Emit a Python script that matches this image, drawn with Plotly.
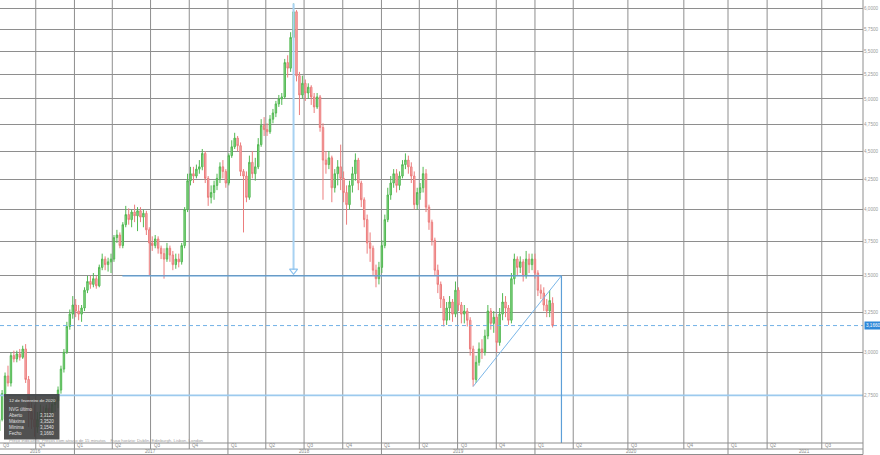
import numpy as np
import pandas as pd
import plotly.graph_objects as go

# ---------------- data (weekly candles) ----------------
DATES = pd.date_range("2016-07-06", periods=189, freq="7D")  # last = 2020-02-12

OPEN = [
    2.56, 2.62, 2.76, 2.86, 2.82, 2.98, 2.96, 2.99, 2.97, 3.02,
    2.84, 2.66, 2.62, 2.58, 2.62, 2.66, 2.63, 2.68, 2.65, 2.70,
    2.72, 2.78, 2.90, 3.00, 3.16, 3.24, 3.30, 3.26, 3.24, 3.28,
    3.40, 3.46, 3.44, 3.48, 3.43, 3.56, 3.62, 3.58, 3.60, 3.62,
    3.78, 3.80, 3.72, 3.88, 3.96, 3.92, 3.98, 3.95, 3.99, 3.94,
    3.97, 3.84, 3.74, 3.72, 3.77, 3.70, 3.66, 3.62, 3.70, 3.65,
    3.58, 3.62, 3.60, 3.72, 4.00, 4.24, 4.30, 4.28, 4.34, 4.36,
    4.48, 4.26, 4.10, 4.14, 4.20, 4.26, 4.36, 4.32, 4.22, 4.46,
    4.54, 4.62, 4.55, 4.32, 4.28, 4.10, 4.40, 4.30, 4.36, 4.56,
    4.74, 4.70, 4.68, 4.80, 4.86, 4.95, 5.00, 5.02, 5.38, 5.32,
    5.66, 5.96, 5.24, 5.04, 5.16, 5.06, 5.12, 5.02, 4.92, 5.02,
    4.72, 4.42, 4.38, 4.44, 4.18, 4.30, 4.36, 4.26, 4.14, 4.04,
    4.20, 4.30, 4.42, 4.22, 4.08, 3.92, 3.74, 3.70, 3.54, 3.48,
    3.56, 3.72, 3.92, 4.12, 4.22, 4.30, 4.20, 4.28, 4.38, 4.42,
    4.36, 4.28, 4.04, 4.14, 4.18, 4.30, 4.02, 3.90, 3.76, 3.54,
    3.44, 3.34, 3.20, 3.28, 3.32, 3.24, 3.40, 3.30, 3.24, 3.26,
    3.20, 3.02, 2.84, 2.94, 3.02, 3.00, 3.10, 3.26, 3.18, 3.22,
    3.06, 3.24, 3.32, 3.28, 3.20, 3.48, 3.62, 3.56, 3.60, 3.50,
    3.62, 3.58, 3.62, 3.52, 3.40, 3.38, 3.30, 3.26, 3.312,
]
HIGH = [
    2.63, 2.78, 2.88, 2.92, 3.00, 3.01, 3.01, 3.02, 3.04, 3.05,
    2.86, 2.72, 2.70, 2.66, 2.70, 2.69, 2.70, 2.71, 2.74, 2.74,
    2.80, 2.92, 3.02, 3.19, 3.27, 3.36, 3.34, 3.30, 3.30, 3.42,
    3.50, 3.50, 3.52, 3.50, 3.58, 3.66, 3.64, 3.63, 3.66, 3.80,
    3.84, 3.82, 3.90, 4.03, 4.01, 4.00, 4.04, 4.02, 4.02, 4.00,
    3.99, 3.86, 3.79, 3.80, 3.79, 3.72, 3.70, 3.74, 3.72, 3.68,
    3.66, 3.66, 3.74, 4.02, 4.30, 4.36, 4.36, 4.38, 4.42, 4.52,
    4.50, 4.28, 4.20, 4.24, 4.30, 4.40, 4.42, 4.34, 4.48, 4.60,
    4.67, 4.64, 4.58, 4.34, 4.32, 4.46, 4.50, 4.44, 4.62, 4.80,
    4.82, 4.76, 4.84, 4.90, 4.98, 5.04, 5.06, 5.42, 5.46, 5.72,
    6.06, 5.98, 5.28, 5.24, 5.20, 5.16, 5.14, 5.06, 5.06, 5.04,
    4.76, 4.50, 4.50, 4.46, 4.34, 4.42, 4.56, 4.32, 4.20, 4.24,
    4.36, 4.48, 4.44, 4.24, 4.10, 3.96, 3.82, 3.72, 3.58, 3.60,
    3.76, 3.96, 4.18, 4.28, 4.34, 4.34, 4.32, 4.42, 4.48, 4.46,
    4.40, 4.32, 4.18, 4.22, 4.36, 4.34, 4.04, 3.92, 3.78, 3.58,
    3.46, 3.36, 3.32, 3.36, 3.34, 3.46, 3.42, 3.32, 3.30, 3.28,
    3.22, 3.04, 2.98, 3.06, 3.08, 3.14, 3.30, 3.28, 3.26, 3.24,
    3.28, 3.38, 3.36, 3.30, 3.52, 3.66, 3.64, 3.64, 3.62, 3.68,
    3.66, 3.66, 3.66, 3.54, 3.44, 3.42, 3.34, 3.40, 3.352,
]
LOW = [
    2.55, 2.61, 2.74, 2.80, 2.80, 2.94, 2.94, 2.95, 2.96, 2.82,
    2.58, 2.57, 2.53, 2.55, 2.60, 2.61, 2.61, 2.62, 2.60, 2.66,
    2.68, 2.76, 2.88, 2.99, 3.14, 3.21, 3.22, 3.20, 3.19, 3.26,
    3.38, 3.41, 3.42, 3.41, 3.42, 3.54, 3.54, 3.53, 3.52, 3.60,
    3.74, 3.70, 3.70, 3.86, 3.88, 3.86, 3.90, 3.83, 3.90, 3.86,
    3.80, 3.50, 3.68, 3.70, 3.66, 3.62, 3.48, 3.60, 3.60, 3.54,
    3.55, 3.56, 3.58, 3.70, 3.98, 4.20, 4.22, 4.26, 4.30, 4.33,
    4.22, 4.03, 4.05, 4.08, 4.16, 4.22, 4.26, 4.18, 4.20, 4.44,
    4.52, 4.50, 4.28, 3.82, 4.06, 4.08, 4.26, 4.24, 4.34, 4.54,
    4.64, 4.64, 4.66, 4.76, 4.82, 4.92, 4.94, 5.00, 5.22, 5.28,
    5.62, 5.18, 4.84, 5.00, 4.98, 5.00, 4.94, 4.86, 4.90, 4.68,
    4.08, 4.30, 4.34, 4.06, 4.14, 4.20, 4.16, 4.06, 3.88, 4.00,
    4.14, 4.24, 4.16, 4.02, 3.86, 3.66, 3.60, 3.50, 3.42, 3.44,
    3.52, 3.70, 3.90, 4.08, 4.18, 4.14, 4.16, 4.26, 4.34, 4.30,
    4.22, 4.00, 4.00, 4.08, 4.14, 3.98, 3.84, 3.72, 3.50, 3.38,
    3.28, 3.16, 3.17, 3.20, 3.19, 3.22, 3.26, 3.18, 3.18, 3.16,
    2.98, 2.80, 2.82, 2.92, 2.96, 2.98, 3.08, 3.14, 3.12, 3.00,
    3.04, 3.20, 3.22, 3.17, 3.18, 3.44, 3.50, 3.52, 3.46, 3.48,
    3.52, 3.54, 3.48, 3.36, 3.34, 3.26, 3.22, 3.22, 3.154,
]
CLOSE = [
    2.62, 2.76, 2.86, 2.82, 2.98, 2.96, 2.99, 2.97, 3.02, 2.84,
    2.66, 2.62, 2.58, 2.62, 2.66, 2.63, 2.68, 2.65, 2.70, 2.72,
    2.78, 2.90, 3.00, 3.16, 3.24, 3.30, 3.26, 3.24, 3.28, 3.40,
    3.46, 3.44, 3.48, 3.43, 3.56, 3.62, 3.58, 3.60, 3.62, 3.78,
    3.80, 3.72, 3.88, 3.96, 3.92, 3.98, 3.95, 3.99, 3.94, 3.97,
    3.84, 3.74, 3.72, 3.77, 3.70, 3.66, 3.62, 3.70, 3.65, 3.58,
    3.62, 3.60, 3.72, 4.00, 4.24, 4.30, 4.28, 4.34, 4.36, 4.48,
    4.26, 4.10, 4.14, 4.20, 4.26, 4.36, 4.32, 4.22, 4.46, 4.54,
    4.62, 4.55, 4.32, 4.28, 4.10, 4.40, 4.30, 4.36, 4.56, 4.74,
    4.70, 4.68, 4.80, 4.86, 4.95, 5.00, 5.02, 5.38, 5.32, 5.66,
    5.96, 5.24, 5.04, 5.16, 5.06, 5.12, 5.02, 4.92, 5.02, 4.72,
    4.42, 4.38, 4.44, 4.18, 4.30, 4.36, 4.26, 4.14, 4.04, 4.20,
    4.30, 4.42, 4.22, 4.08, 3.92, 3.74, 3.70, 3.54, 3.48, 3.56,
    3.72, 3.92, 4.12, 4.22, 4.30, 4.20, 4.28, 4.38, 4.42, 4.36,
    4.28, 4.04, 4.14, 4.18, 4.30, 4.02, 3.90, 3.76, 3.54, 3.44,
    3.34, 3.20, 3.28, 3.32, 3.24, 3.40, 3.30, 3.24, 3.26, 3.20,
    3.02, 2.84, 2.94, 3.02, 3.00, 3.10, 3.26, 3.18, 3.22, 3.06,
    3.24, 3.32, 3.28, 3.20, 3.48, 3.62, 3.56, 3.60, 3.50, 3.62,
    3.58, 3.62, 3.52, 3.40, 3.38, 3.30, 3.26, 3.33, 3.166,
]

# y axis ticks
Y_TICKS = [2.75, 3.0, 3.25, 3.5, 3.75, 4.0, 4.25, 4.5, 4.75, 5.0, 5.25, 5.5, 5.75, 6.0]
Y_LABELS = ["2,7500", "3,0000", "3,2500", "3,5000", "3,7500", "4,0000", "4,2500",
            "4,5000", "4,7500", "5,0000", "5,2500", "5,5000", "5,7500", "6,0000"]

# quarter grid (the future part of the axis is spaced as in the picture)
QUARTER_DATES = ["2016-10-01", "2017-01-01", "2017-04-01", "2017-07-01", "2017-10-01",
                 "2018-01-01", "2018-04-01", "2018-07-01", "2018-10-01", "2019-01-01",
                 "2019-04-01", "2019-07-01", "2019-10-01", "2020-01-01", "2020-04-01",
                 "2020-08-09", "2020-12-20", "2021-04-04", "2021-07-06", "2021-11-13"]
QUARTER_LABELS = ["Q4", "Q1", "Q2", "Q3", "Q4", "Q1", "Q2", "Q3", "Q4", "Q1",
                  "Q2", "Q3", "Q4", "Q1", "Q2", "Q3", "Q4", "Q1", "Q2", "Q3"]
YEAR_BOUNDS = ["2017-01-01", "2018-01-01", "2019-01-01", "2020-01-01", "2021-04-04"]
YEAR_LABELS = ["2016", "2017", "2018", "2019", "2020", "2021"]
YEAR_LABEL_DATES = ["2016-09-30", "2017-07-02", "2018-07-02", "2019-07-02", "2020-08-17", "2021-10-04"]

X_RANGE = ["2016-07-08", "2022-02-19"]

# drawings
SUPPORT = 2.75
LEVEL = 3.50
LEVEL_DATES = ["2017-04-25", "2020-03-04"]
TREND_DATES = ["2019-08-07", "2020-03-04"]
TREND_PRICES = [2.80, 3.50]

TOOLTIP_DATE = "12 de fevereiro de 2020"
TOOLTIP_NAME = "NVG último"
TOOLTIP_ROWS = ["Aberto", "Máxima", "Mínima", "Fecho"]

# ---------------- figure ----------------
W, H = 880, 455
ML, MR, MT, MB = 0, 17, 0, 12
PH = H - MT - MB
FONT = "Liberation Sans, Arial, sans-serif"
GRID = "#8e8e8e"


def py(px):
    """pixel row (from top of plot area) -> paper y"""
    return 1 - px / PH


fig = go.Figure()

fig.add_trace(go.Candlestick(
    x=DATES, open=OPEN, high=HIGH, low=LOW, close=CLOSE,
    increasing=dict(line=dict(color="#52b852", width=1), fillcolor="#8fd88f"),
    decreasing=dict(line=dict(color="#ec7d7d", width=1), fillcolor="#f6b4b4"),
    whiskerwidth=0, hoverinfo="skip", showlegend=False,
))

def line(x, y, color, width=1, dash="solid"):
    fig.add_trace(go.Scatter(x=x, y=y, mode="lines", hoverinfo="skip", showlegend=False,
                             line=dict(color=color, width=width, dash=dash)))

# support line over whole width
line(X_RANGE, [SUPPORT, SUPPORT], "#9ccaee", 1.8)
# last price dashed line
line(X_RANGE, [CLOSE[-1], CLOSE[-1]], "#72b2e6", 1, "4px,3px")
# horizontal level + triangle
line(LEVEL_DATES, [LEVEL, LEVEL], "#5d9fd8", 1.2)
line(TREND_DATES, TREND_PRICES, "#7ab6e8", 1)
line([LEVEL_DATES[1], LEVEL_DATES[1]], [LEVEL, 2.3], "#5d9fd8", 1.2)
# projection arrow from the top
peak = int(np.argmax(HIGH))
line([DATES[peak], DATES[peak]], [HIGH[peak], LEVEL * 1.012], "#a8d2f2", 2)
fig.add_trace(go.Scatter(x=[DATES[peak]], y=[LEVEL * 1.01], mode="markers", hoverinfo="skip",
                         showlegend=False,
                         marker=dict(symbol="triangle-down-open", size=7,
                                     color="#8cc2ee", line=dict(width=1.2, color="#8cc2ee"))))

shapes = []
for d in QUARTER_DATES:
    shapes.append(dict(type="line", xref="x", yref="paper", x0=d, x1=d,
                       y0=py(449), y1=1, line=dict(color=GRID, width=1), layer="below"))
for d in YEAR_BOUNDS:
    shapes.append(dict(type="line", xref="x", yref="paper", x0=d, x1=d,
                       y0=py(454.5), y1=py(449), line=dict(color=GRID, width=1), layer="below"))
for yy in (443, 449, 454.5):
    shapes.append(dict(type="line", xref="paper", yref="paper", x0=0, x1=1,
                       y0=py(yy), y1=py(yy), line=dict(color=GRID, width=1)))
shapes.append(dict(type="line", xref="paper", yref="paper", x0=1, x1=1,
                   y0=py(454.5), y1=1, line=dict(color=GRID, width=1)))
# tooltip box
PW = W - ML - MR
shapes.append(dict(type="rect", xref="paper", yref="paper",
                   x0=4 / PW, x1=59.5 / PW, y0=py(439.5), y1=py(394),
                   fillcolor="rgba(62,62,62,0.9)", line=dict(width=0), layer="above"))

ann = []
small = dict(family=FONT, size=4.6, color="#8a8a8a")
ann.append(dict(x=0.0012, y=py(446), xref="paper", yref="paper", text="Q3",
                showarrow=False, xanchor="left", yanchor="middle", font=small))
for d, t in zip(QUARTER_DATES, QUARTER_LABELS):
    ann.append(dict(x=d, y=py(446), xref="x", yref="paper", text=t, showarrow=False,
                    xanchor="left", yanchor="middle", xshift=1, font=small))
for d, t in zip(YEAR_LABEL_DATES, YEAR_LABELS):
    ann.append(dict(x=d, y=py(451.8), xref="x", yref="paper", text=t, showarrow=False,
                    xanchor="center", yanchor="middle", font=small))
ann.append(dict(x=7 / PW, y=py(440.6), xref="paper", yref="paper",
                text="Preço indicativo. Preços com atraso de 15 minutos &nbsp;&nbsp; Fuso horário: Dublin, Edinburgh, Lisbon, London",
                showarrow=False, xanchor="left", yanchor="middle",
                font=dict(family=FONT, size=4.3, color="#9a9a9a")))

# tooltip text
tip = dict(family=FONT, size=4.5, color="#e0e0e0")
ann.append(dict(x=6.5 / PW, y=py(400.3), xref="paper", yref="paper", text=TOOLTIP_DATE,
                showarrow=False, xanchor="left", yanchor="middle",
                font=dict(family=FONT, size=4.4, color="#e6e6e6")))
ann.append(dict(x=6.5 / PW, y=py(409), xref="paper", yref="paper", text=TOOLTIP_NAME,
                showarrow=False, xanchor="left", yanchor="middle", font=tip))
vals = [OPEN[-1], HIGH[-1], LOW[-1], CLOSE[-1]]
for i, (lab, v) in enumerate(zip(TOOLTIP_ROWS, vals)):
    yy = py(415 + i * 6.1)
    ann.append(dict(x=6.5 / PW, y=yy, xref="paper", yref="paper", text=lab,
                    showarrow=False, xanchor="left", yanchor="middle", font=tip))
    ann.append(dict(x=56.5 / PW, y=yy, xref="paper", yref="paper",
                    text=f"{v:.4f}".replace(".", ","),
                    showarrow=False, xanchor="right", yanchor="middle", font=tip))

# last price marker on the axis
ann.append(dict(x=1, y=np.log10(CLOSE[-1]), xref="paper", yref="y",
                text=f"{CLOSE[-1]:.4f}".replace(".", ","), showarrow=False,
                xanchor="left", yanchor="middle", xshift=1, bgcolor="#2f88d8",
                borderpad=1, font=dict(family=FONT, size=4.6, color="#ffffff")))

ylo, yhi = 0.39768, 0.78559
fig.update_layout(
    width=W, height=H, autosize=False,
    margin=dict(l=ML, r=MR, t=MT, b=MB, pad=0),
    paper_bgcolor="white", plot_bgcolor="white",
    showlegend=False, hovermode=False,
    shapes=shapes, annotations=ann,
    xaxis=dict(type="date", range=X_RANGE, showgrid=False, showticklabels=False,
               zeroline=False, showline=False, ticks="", rangeslider=dict(visible=False),
               fixedrange=True),
    yaxis=dict(type="log", range=[ylo, yhi], side="right", tickvals=Y_TICKS, ticktext=Y_LABELS,
               showgrid=True, gridcolor=GRID, gridwidth=1, zeroline=False, showline=False,
               ticks="", tickfont=dict(family=FONT, size=4.6, color="#9a9a9a"),
               fixedrange=True),
)

fig.write_html("out.html", config={"displayModeBar": False},
               post_script="document.body.style.margin='0px';")
